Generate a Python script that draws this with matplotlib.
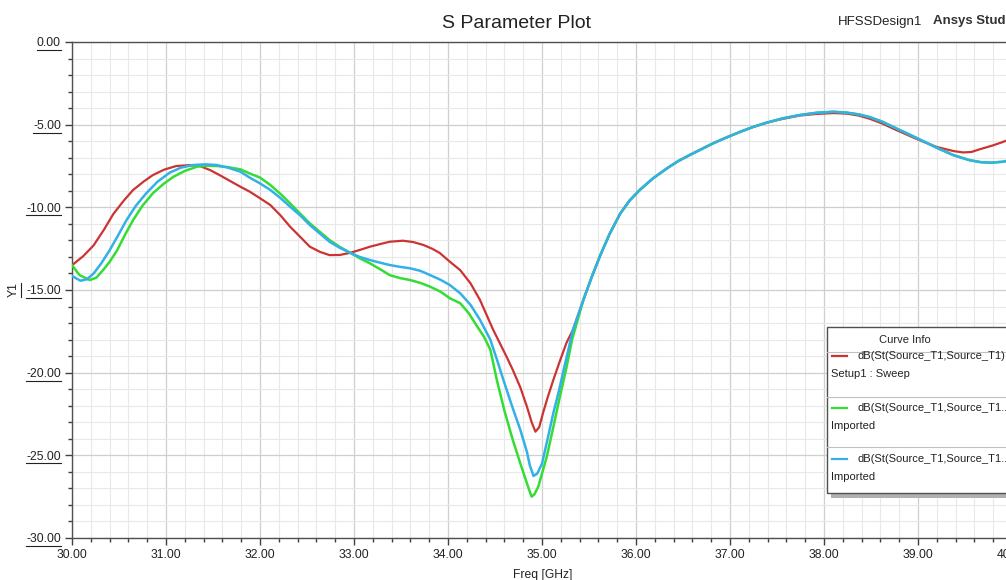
import matplotlib
matplotlib.use('Agg')
import matplotlib.pyplot as plt
from matplotlib.lines import Line2D
from matplotlib.patches import Rectangle
from matplotlib.ticker import MultipleLocator

plt.rcParams['font.family'] = ['Liberation Sans', 'DejaVu Sans']

# values (Freq in GHz, Y1 in dB)
red_freq = [30.0, 30.12, 30.23, 30.34, 30.44, 30.55, 30.65, 30.76, 30.86, 30.98, 31.11, 31.25,
            31.36, 31.47, 31.57, 31.68, 31.79, 31.89, 32.0, 32.11, 32.22, 32.32, 32.43, 32.53,
            32.64, 32.74, 32.85, 32.96, 33.06, 33.17, 33.28, 33.38, 33.52, 33.63, 33.74, 33.83,
            33.91, 34.02, 34.13, 34.24, 34.34, 34.41, 34.48, 34.55, 34.62, 34.69, 34.77, 34.84,
            34.89, 34.93, 34.97, 35.01, 35.06, 35.12, 35.19, 35.26, 35.33, 35.44, 35.53, 35.62,
            35.72, 35.83, 35.93, 36.04, 36.18, 36.33, 36.45, 36.57, 36.7, 36.82, 36.96, 37.11,
            37.25, 37.39, 37.56, 37.74, 37.92, 38.1, 38.24, 38.37, 38.49, 38.62, 38.74, 38.88,
            39.02, 39.2, 39.38, 39.48, 39.57, 39.65, 39.8, 39.91, 40.0]
red_db = [-13.5, -12.95, -12.3, -11.35, -10.4, -9.6, -8.95, -8.45, -8.05, -7.72, -7.5, -7.45,
          -7.5, -7.75, -8.05, -8.4, -8.75, -9.05, -9.45, -9.86, -10.5, -11.17, -11.8, -12.38,
          -12.7, -12.89, -12.88, -12.75, -12.58, -12.38, -12.22, -12.08, -12.02, -12.1, -12.28, -12.5,
          -12.75, -13.29, -13.8, -14.6, -15.6, -16.5, -17.4, -18.2, -19.0, -19.84, -20.9, -22.06,
          -23.0, -23.57, -23.3, -22.46, -21.5, -20.45, -19.3, -18.2, -17.4, -15.6, -14.2, -12.9,
          -11.6, -10.4, -9.6, -8.95, -8.25, -7.64, -7.2, -6.84, -6.47, -6.13, -5.78, -5.43,
          -5.13, -4.88, -4.65, -4.45, -4.35, -4.3, -4.33, -4.45, -4.65, -4.93, -5.25, -5.6,
          -5.95, -6.35, -6.6, -6.68, -6.65, -6.5, -6.25, -6.03, -5.85]

green_freq = [30.0, 30.08, 30.19, 30.26, 30.33, 30.4, 30.48, 30.56, 30.65, 30.75, 30.86, 30.97,
              31.08, 31.2, 31.33, 31.45, 31.54, 31.66, 31.79, 31.89, 32.0, 32.11, 32.22, 32.32,
              32.43, 32.53, 32.64, 32.74, 32.85, 32.96, 33.06, 33.17, 33.28, 33.38, 33.49, 33.6,
              33.71, 33.81, 33.92, 34.02, 34.13, 34.22, 34.31, 34.38, 34.45, 34.52, 34.6, 34.69,
              34.77, 34.84, 34.87, 34.89, 34.92, 34.96, 35.0, 35.05, 35.12, 35.19, 35.26, 35.32,
              35.44, 35.53, 35.62, 35.72, 35.83, 35.93, 36.04, 36.18, 36.33, 36.45, 36.57, 36.7,
              36.82, 36.96, 37.11, 37.25, 37.39, 37.56, 37.74, 37.92, 38.1, 38.24, 38.37, 38.49,
              38.62, 38.74, 38.88, 39.02, 39.2, 39.38, 39.55, 39.67, 39.77, 39.91, 40.0]
green_db = [-13.5, -14.1, -14.4, -14.25, -13.8, -13.3, -12.6, -11.7, -10.77, -9.9, -9.15, -8.6,
            -8.15, -7.8, -7.54, -7.48, -7.5, -7.57, -7.7, -7.95, -8.2, -8.65, -9.2, -9.76,
            -10.4, -10.97, -11.5, -11.98, -12.4, -12.75, -13.08, -13.39, -13.75, -14.1, -14.28, -14.4,
            -14.58, -14.8, -15.1, -15.5, -15.8, -16.4, -17.2, -17.8, -18.6, -20.45, -22.3, -24.08,
            -25.5, -26.7, -27.2, -27.5, -27.35, -26.9, -26.1, -25.1, -23.3, -21.46, -19.7, -18.0,
            -15.6, -14.2, -12.9, -11.6, -10.4, -9.6, -8.95, -8.25, -7.64, -7.2, -6.84, -6.47,
            -6.13, -5.78, -5.43, -5.13, -4.88, -4.62, -4.42, -4.28, -4.22, -4.27, -4.38, -4.55,
            -4.82, -5.15, -5.52, -5.9, -6.4, -6.85, -7.15, -7.27, -7.3, -7.24, -7.1]

blue_freq = [30.0, 30.09, 30.16, 30.23, 30.31, 30.4, 30.49, 30.58, 30.68, 30.79, 30.91, 31.04,
             31.16, 31.29, 31.42, 31.54, 31.66, 31.79, 31.89, 32.0, 32.11, 32.22, 32.32, 32.43,
             32.53, 32.64, 32.74, 32.85, 32.96, 33.06, 33.17, 33.28, 33.38, 33.49, 33.6, 33.71,
             33.81, 33.92, 34.02, 34.13, 34.24, 34.34, 34.45, 34.52, 34.59, 34.68, 34.77, 34.84,
             34.87, 34.91, 34.95, 35.0, 35.06, 35.12, 35.18, 35.23, 35.33, 35.44, 35.53, 35.62,
             35.72, 35.83, 35.93, 36.04, 36.18, 36.33, 36.45, 36.57, 36.7, 36.82, 36.96, 37.11,
             37.25, 37.39, 37.56, 37.74, 37.92, 38.1, 38.24, 38.37, 38.49, 38.62, 38.74, 38.88,
             39.02, 39.2, 39.38, 39.55, 39.67, 39.77, 39.91, 40.0]
blue_db = [-14.15, -14.44, -14.35, -14.0, -13.4, -12.6, -11.7, -10.77, -9.9, -9.15, -8.45, -7.9,
           -7.6, -7.44, -7.4, -7.44, -7.6, -7.84, -8.2, -8.55, -8.95, -9.45, -9.96, -10.5,
           -11.07, -11.6, -12.08, -12.45, -12.75, -13.0, -13.19, -13.35, -13.49, -13.6, -13.69, -13.85,
           -14.1, -14.38, -14.7, -15.2, -15.9, -16.8, -18.0, -19.2, -20.45, -22.0, -23.47, -24.8,
           -25.6, -26.25, -26.1, -25.5, -24.0, -22.46, -21.1, -19.84, -17.4, -15.6, -14.2, -12.9,
           -11.6, -10.4, -9.6, -8.95, -8.25, -7.64, -7.2, -6.84, -6.47, -6.13, -5.78, -5.43,
           -5.13, -4.88, -4.62, -4.42, -4.28, -4.22, -4.27, -4.38, -4.55, -4.82, -5.15, -5.52,
           -5.9, -6.4, -6.85, -7.15, -7.27, -7.3, -7.24, -7.1]

legend_titles = ['dB(St(Source_T1,Source_T1)', 'dB(St(Source_T1,Source_T1...', 'dB(St(Source_T1,Source_T1...']
legend_subs = ['Setup1 : Sweep', 'Imported', 'Imported']
colors = ['#cc3333', '#33dd33', '#33b0e8']

W, H = 1006, 580
fig = plt.figure(figsize=(W / 100, H / 100), dpi=100)
# axes right edge (40 GHz) sits just past the picture edge, like the screenshot
ax = fig.add_axes([72 / W, (H - 538) / H, 940 / W, 496 / H])

ax.plot(red_freq, red_db, color=colors[0], lw=1.6, zorder=3, solid_joinstyle='round')
ax.plot(green_freq, green_db, color=colors[1], lw=1.8, zorder=4, solid_joinstyle='round')
ax.plot(blue_freq, blue_db, color=colors[2], lw=1.8, zorder=5, solid_joinstyle='round')

ax.set_xlim(30, 40)
ax.set_ylim(-30, 0)
ax.xaxis.set_major_locator(MultipleLocator(1))
ax.xaxis.set_minor_locator(MultipleLocator(0.2))
ax.yaxis.set_major_locator(MultipleLocator(5))
ax.yaxis.set_minor_locator(MultipleLocator(1))
ax.xaxis.set_major_formatter(lambda v, p: '%.2f' % v)
ax.yaxis.set_major_formatter(lambda v, p: '%.2f' % v)
ax.grid(which='major', color='#cfcfcf', lw=0.9)
ax.grid(which='minor', color='#e8e8e8', lw=0.8)
ax.set_axisbelow(True)
for s in ['left', 'bottom', 'top']:
    ax.spines[s].set_color('#505050')
    ax.spines[s].set_linewidth(1.0)
ax.spines['right'].set_visible(False)
ax.tick_params(which='major', length=5, width=1, color='#404040', labelsize=8.7, labelcolor='#222222', pad=3)
ax.tick_params(which='minor', length=3, width=1, color='#404040')

fig.text(517 / W, 1 - 24 / H, 'S Parameter Plot', fontsize=14, ha='center', va='center', color='#222222')
fig.text(838 / W, 1 - 22 / H, 'HFSSDesign1', fontsize=9.5, ha='left', va='center', color='#222222')
fig.text(933 / W, 1 - 21 / H, 'Ansys Studio', fontsize=9.5, fontweight='bold', ha='left', va='center', color='#333333')
fig.text(513 / W, 1 - 569 / H, 'Freq [GHz]', fontsize=8.7, ha='left', va='top', color='#222222')
ylab = fig.text(14 / W, 1 - 290 / H, 'Y1', fontsize=8.7, rotation=90, ha='center', va='center', color='#222222')

# legend box ("Curve Info"), drawn by hand in pixel units
def px(x, y):
    return x / W, 1 - y / H

x0, y0, x1, y1 = 827, 327, 1060, 493
fig.add_artist(Rectangle(px(x0 + 4, y1 + 5), (x1 - x0) / W, (y1 - y0) / H, facecolor='#b0b0b0', edgecolor='none', zorder=8))
fig.add_artist(Rectangle(px(x0, y1), (x1 - x0) / W, (y1 - y0) / H, facecolor='white', edgecolor='#505050', lw=1, zorder=9))
fig.text(*px(905, 340), 'Curve Info', fontsize=8, ha='center', va='center', color='#222222', zorder=10)
for ysep in [352, 397, 447]:
    fig.add_artist(Line2D([x0 / W, x1 / W], [1 - ysep / H] * 2, color='#c0c0c0', lw=0.8, zorder=10))
for i, yrow in enumerate([356, 408, 459]):
    fig.add_artist(Line2D([832 / W, 847 / W], [1 - yrow / H] * 2, color=colors[i], lw=1.6, zorder=10))
    fig.text(*px(858, yrow), legend_titles[i], fontsize=8, ha='left', va='center', color='#222222', zorder=10)
    fig.text(*px(831, yrow + 18), legend_subs[i], fontsize=8, ha='left', va='center', color='#222222', zorder=10)

# underline the y tick labels and the y label
fig.canvas.draw()
r = fig.canvas.get_renderer()
for t in ax.get_yticklabels() + [ylab]:
    if not t.get_text():
        continue
    bb = t.get_window_extent(r)
    if t is ylab:
        fig.add_artist(Line2D([(bb.x1 + 1) / W] * 2, [bb.y0 / H, bb.y1 / H], color='#222222', lw=0.8))
    else:
        fig.add_artist(Line2D([bb.x0 / W, bb.x1 / W], [(bb.y0 - 0.5) / H] * 2, color='#222222', lw=0.8))

fig.savefig('out.png', dpi=100)
